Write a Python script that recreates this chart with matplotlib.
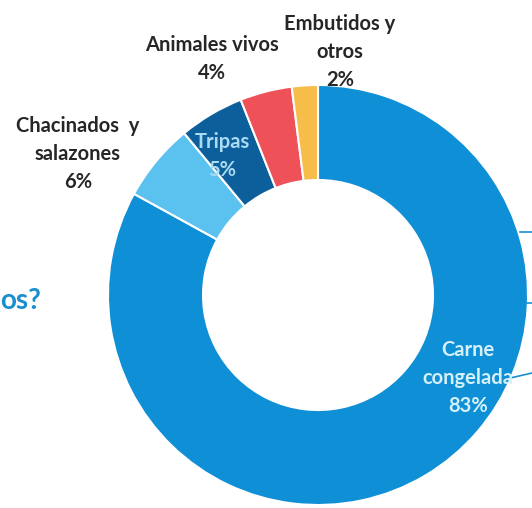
import numpy as np
import matplotlib.pyplot as plt
import matplotlib as mpl

mpl.rcParams['font.family'] = ['Lato', 'DejaVu Sans']

# data
labels = ['Carne\ncongelada', 'Chacinados  y\nsalazones', 'Tripas',
          'Animales vivos', 'Embutidos y\notros']
values = [83, 6, 5, 4, 2]
colors = ['#0f8fd5', '#5bc2f0', '#0d5f9b', '#ee5157', '#f7bd4b']

W, H = 532, 508
fig = plt.figure(figsize=(W / 100, H / 100), dpi=100)
ax = fig.add_axes([0, 0, 1, 1])

cx, cy = 318, H - 295
R = 210
wedges, _ = ax.pie(values, colors=colors, startangle=90, counterclock=False,
                   center=(cx, cy), radius=R,
                   wedgeprops=dict(width=95, edgecolor='white', linewidth=1.5))
ax.set_xlim(0, W)
ax.set_ylim(0, H)
ax.set_aspect('equal')
ax.axis('off')

dark = '#262626'
# label positions (pixels from top)
pos = [(468, 378), (78, 154), (222, 156), (212, 59), (340, 52)]
pct_txt = ['%d%%' % v for v in values]
for i, (x, y) in enumerate(pos):
    txt = labels[i] + '\n' + pct_txt[i]
    if i == 0:
        col = '#d6f0fa'
    elif i == 2:
        col = '#a9dcf3'
    else:
        col = dark
    ax.text(x, H - y, txt, ha='center', va='center', fontsize=14.5,
            fontweight='bold', color=col, linespacing=1.5)

# cut off title text and connector lines on the edges
ax.text(0, H - 301, 'os?', ha='left', va='center', fontsize=20,
        fontweight='bold', color='#1a8fd0')
ax.plot([520, W], [H - 232, H - 232], color='#1a8fd0', lw=1.2)
ax.plot([525, W], [H - 303, H - 303], color='#1a8fd0', lw=1.2)
ax.plot([493, W], [H - 382, H - 373], color='#1a8fd0', lw=1.2)

plt.savefig('out.png', dpi=100)
